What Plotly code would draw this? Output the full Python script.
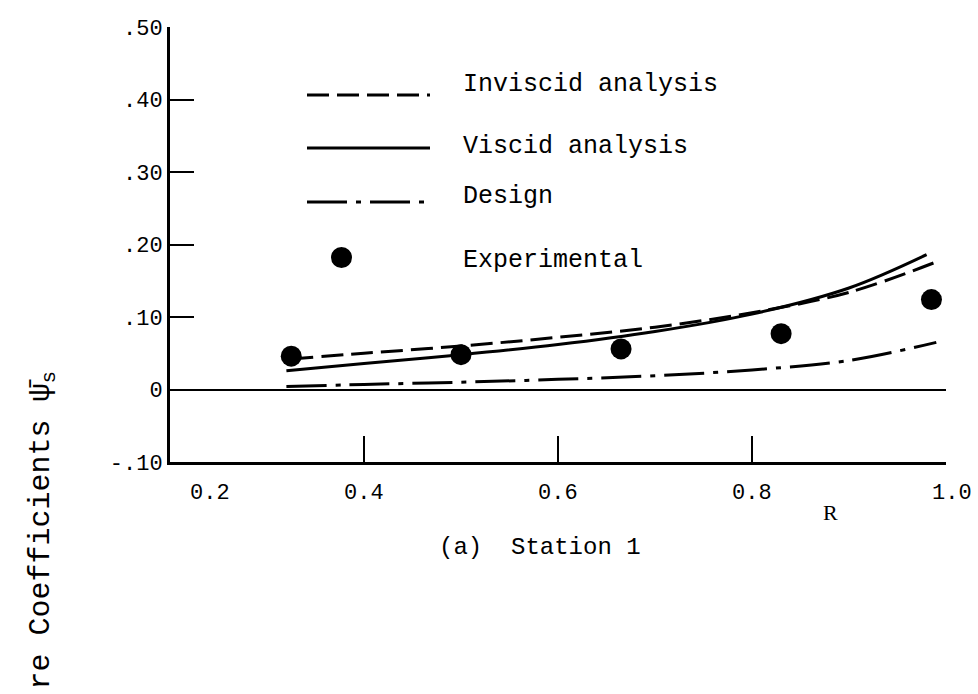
import plotly.graph_objects as go

# ---- data ----
R_exp = [0.325, 0.50, 0.665, 0.83, 0.985]
psi_exp = [0.046, 0.048, 0.056, 0.077, 0.124]

R_visc = [0.32, 0.40, 0.50, 0.60, 0.70, 0.80, 0.90, 0.98]
psi_visc = [0.026, 0.036, 0.048, 0.062, 0.080, 0.104, 0.140, 0.186]

R_invisc = [0.325, 0.40, 0.50, 0.60, 0.70, 0.80, 0.90, 0.99]
psi_invisc = [0.042, 0.050, 0.060, 0.072, 0.086, 0.106, 0.134, 0.176]

R_design = [0.32, 0.40, 0.50, 0.60, 0.70, 0.80, 0.90, 0.99]
psi_design = [0.004, 0.007, 0.010, 0.014, 0.019, 0.027, 0.040, 0.065]

x_tickvals = [0.2, 0.4, 0.6, 0.8, 1.0]
x_ticktext = ["0.2", "0.4", "0.6", "0.8", "1.0"]
x_label_shift = [40, 0, 0, 0, 6]
y_tickvals = [-0.1, 0.0, 0.1, 0.2, 0.3, 0.4, 0.5]
y_ticktext = ["-.10", "0", ".10", ".20", ".30", ".40", ".50"]

legend_names = ["Inviscid analysis", "Viscid analysis", "Design", "Experimental"]

FONT = "Liberation Mono, DejaVu Sans Mono, monospace"

fig = go.Figure()
fig.add_trace(go.Scatter(x=R_invisc, y=psi_invisc, mode="lines", line_shape="spline",
                         line=dict(color="black", width=3, dash="22px,8px"),
                         name=legend_names[0], showlegend=False))
fig.add_trace(go.Scatter(x=R_visc, y=psi_visc, mode="lines", line_shape="spline",
                         line=dict(color="black", width=3),
                         name=legend_names[1], showlegend=False))
fig.add_trace(go.Scatter(x=R_design, y=psi_design, mode="lines", line_shape="spline",
                         line=dict(color="black", width=3, dash="40px,9px,5px,9px"),
                         name=legend_names[2], showlegend=False))
fig.add_trace(go.Scatter(x=R_exp, y=psi_exp, mode="markers",
                         marker=dict(color="black", size=21),
                         name=legend_names[3], showlegend=False))

# ---- hand-drawn style legend (paper coordinates) ----
W, H = 978, 694
L, Rm, T, B = 170, 32, 27, 232
pw, ph = W - L - Rm, H - T - B

def px(x):
    return (x - L) / pw

def py(y):
    return (H - B - y) / ph

leg_rows = [95, 148, 202, 257]
text_rows = [85, 146, 197, 260]
dashes = ["22px,8px", "solid", "40px,9px,5px,9px"]
for yy, d in zip(leg_rows[:3], dashes):
    fig.add_shape(type="line", xref="paper", yref="paper",
                  x0=px(307), x1=px(430), y0=py(yy), y1=py(yy),
                  line=dict(color="black", width=3, dash=d))
fig.add_shape(type="circle", xref="paper", yref="paper",
              x0=px(331), x1=px(352), y0=py(268), y1=py(247),
              fillcolor="black", line=dict(color="black", width=0))
for name, yy in zip(legend_names, text_rows):
    fig.add_annotation(text=name, xref="paper", yref="paper", x=px(461), y=py(yy),
                       xanchor="left", yanchor="middle", showarrow=False,
                       font=dict(family=FONT, size=25, color="black"))

# ---- x tick labels (offset like the original typed labels) ----
for xv, xt, sh in zip(x_tickvals, x_ticktext, x_label_shift):
    fig.add_annotation(text=xt, x=xv, xref="x", y=py(493), yref="paper",
                       xshift=sh, xanchor="center", yanchor="middle", showarrow=False,
                       font=dict(family=FONT, size=22, color="black"))

# ---- axis annotations ----
fig.add_annotation(text="R", xref="paper", yref="paper", x=px(830), y=py(512),
                   xanchor="center", yanchor="middle", showarrow=False,
                   font=dict(family="Liberation Serif, serif", size=22, color="black"))
fig.add_annotation(text="(a)  Station 1", xref="paper", yref="paper", x=px(540), y=py(547),
                   xanchor="center", yanchor="middle", showarrow=False,
                   font=dict(family=FONT, size=24, color="black"))
fig.add_annotation(text="re Coefficients \u03c8\u0304<sub>s</sub>", xref="paper", yref="paper",
                   x=px(42), y=py(692), xanchor="center", yanchor="bottom", textangle=-90,
                   showarrow=False, font=dict(family=FONT, size=30, color="black"))

fig.update_xaxes(range=[0.2, 1.0], tickvals=x_tickvals, showticklabels=False,
                 showgrid=False, zeroline=False, showline=True, linecolor="black", linewidth=3,
                 ticks="inside", ticklen=26, tickwidth=2, tickcolor="black")
fig.update_yaxes(range=[-0.1, 0.5], tickvals=y_tickvals, ticktext=y_ticktext,
                 showgrid=False, zeroline=True, zerolinecolor="black", zerolinewidth=1.5,
                 showline=True, linecolor="black", linewidth=3,
                 ticks="inside", ticklen=24, tickwidth=2, tickcolor="black",
                 tickfont=dict(family=FONT, size=22, color="black"))

fig.update_layout(width=W, height=H, margin=dict(l=L, r=Rm, t=T, b=B),
                  plot_bgcolor="white", paper_bgcolor="white", showlegend=False)

fig.write_html("out.html", config={"displayModeBar": False},
               post_script="document.body.style.margin='0';document.body.style.overflow='hidden';")
